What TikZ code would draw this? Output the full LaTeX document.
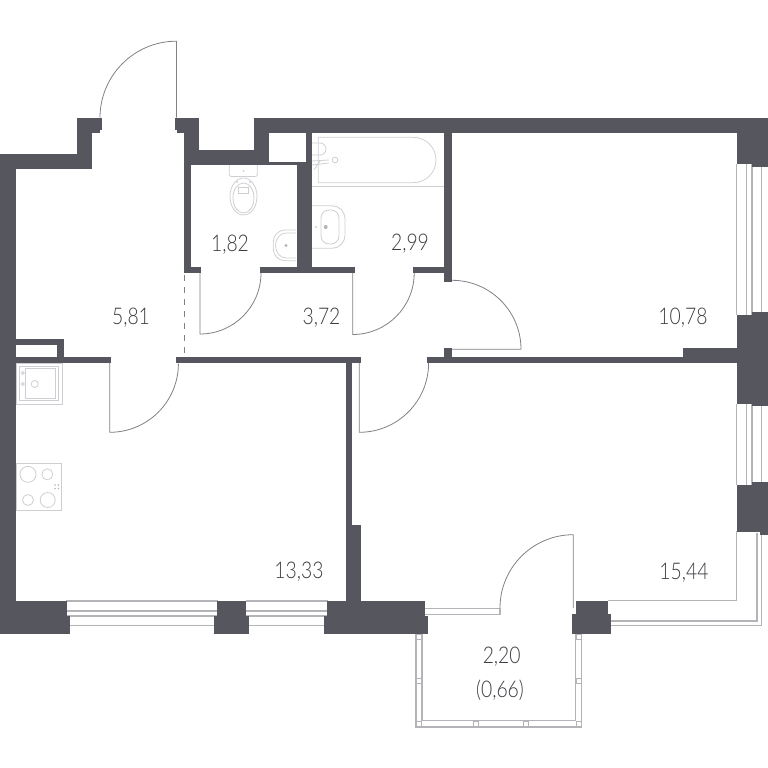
\documentclass[tikz,border=0pt]{standalone}
\usepackage{fontspec}
\setmainfont[FakeStretch=0.84]{Lato Light}
\definecolor{wallc}{HTML}{55565E}
\definecolor{glassc}{HTML}{B4B4B8}
\definecolor{doorc}{HTML}{808086}
\definecolor{fixc}{HTML}{CFCFD3}
\definecolor{textc}{HTML}{3C3C42}
\tikzset{
  wallfill/.style={fill=wallc},
  glass/.style={draw=glassc,line width=1.1pt},
  frameline/.style={draw=glassc,line width=1pt,fill=white},
  leaf/.style={draw=doorc,line width=0.8pt},
  fixture/.style={draw=fixc,line width=0.8pt},
  area/.style={font=\fontsize{23}{26}\selectfont,text=textc,inner sep=0pt}
}
\begin{document}
\begin{tikzpicture}[x=1pt,y=-1pt]
\useasboundingbox (0,0) rectangle (768,768);
% ---- glazing
\foreach \ya in {601,611,616}{\draw[glass] (66,\ya) -- (218,\ya);\draw[glass] (246,\ya) -- (328,\ya);}
\foreach \ya in {616.5,625.5}{\draw[glass] (69,\ya) -- (215,\ya);\draw[glass] (249,\ya) -- (325,\ya);}
\foreach \xa in {736.7,746.7,752,761.5}{\draw[glass] (\xa,164) -- (\xa,315);\draw[glass] (\xa,404) -- (\xa,485);}
\draw[glass] (736.7,531) -- (736.7,600.7) -- (608,600.7);
\draw[glass] (757,533) -- (757,621) -- (608,621);
\draw[glass] (761.7,533) -- (761.7,625.5) -- (610,625.5);
\draw[glass] (425,608.3) -- (500,608.3) -- (500,614.3) -- (425,614.3);
% ---- balcony frame
\draw[glass] (416,634) -- (416,727) -- (581.7,727) -- (581.7,634);
\draw[glass] (422,634) -- (422,720.7) -- (575.7,720.7) -- (575.7,634);
\foreach \xa/\ya in {419/681,578.7/681,476/724,526/724,419/724,578.7/724,419/637,578.7/637}{
  \draw[frameline] (\xa-2.6,\ya-2.6) rectangle (\xa+2.6,\ya+2.6);}
% ---- walls
\fill[wallfill] (0,154) rectangle (16,634);
\fill[wallfill] (0,154) rectangle (92,169);
\fill[wallfill] (77,117.5) rectangle (92,169);
\fill[wallfill] (77,117.5) rectangle (101.5,130);
\fill[wallfill] (92,130) rectangle (100,133);
\fill[wallfill] (175,117.5) rectangle (199,130);
\fill[wallfill] (177,130) rectangle (199,133);
\fill[wallfill] (184,117.5) rectangle (199,165);
\fill[wallfill] (184,150) rectangle (269,165);
\fill[wallfill] (184,165) rectangle (191,273);
\fill[wallfill] (184,266.5) rectangle (201,273);
\fill[wallfill] (254,117.5) rectangle (269,165);
\fill[wallfill] (254,117.5) rectangle (737,133);
\fill[wallfill] (269,162) rectangle (312,165);
\fill[wallfill] (297,162) rectangle (312,273);
\fill[wallfill] (305.7,133) rectangle (312,273);
\fill[wallfill] (260,266.5) rectangle (354.5,273);
\fill[wallfill] (412.7,266.5) rectangle (452,273);
\fill[wallfill] (443.5,133) rectangle (452,281.5);
\fill[wallfill] (444,348) rectangle (452,360);
\fill[wallfill] (426.7,357) rectangle (737,363.3);
\fill[wallfill] (683.3,347.7) rectangle (737,363.3);
\fill[wallfill] (176,357) rectangle (361,363.3);
\fill[wallfill] (16,357) rectangle (111,363.3);
\fill[wallfill] (16,338.5) rectangle (63.5,345);
\fill[wallfill] (57,338.5) rectangle (63.5,363);
\fill[wallfill] (16,359) rectangle (57,363);
\fill[wallfill] (345.7,363) rectangle (352,530);
\fill[wallfill] (345.7,525) rectangle (361,601);
% bottom wall
\fill[wallfill] (0,601) rectangle (66.7,634.3);
\fill[wallfill] (0,616) rectangle (69.7,634.3);
\fill[wallfill] (217.3,601) rectangle (246.3,634.3);
\fill[wallfill] (214.3,616) rectangle (249.3,634.3);
\fill[wallfill] (327,601) rectangle (425,634.3);
\fill[wallfill] (324,616) rectangle (428,634.3);
% balcony door block
\fill[wallfill] (575.7,600.7) rectangle (608,634);
\fill[wallfill] (572.3,614.3) rectangle (611,634);
% right wall
\fill[wallfill] (736.7,117.5) rectangle (752,164);
\fill[wallfill] (752,117.5) rectangle (767.7,167);
\fill[wallfill] (736.7,315) rectangle (752,403.5);
\fill[wallfill] (752,312) rectangle (767.7,405.5);
\fill[wallfill] (736.7,485) rectangle (760,531.7);
\fill[wallfill] (752,481.7) rectangle (767.7,531.7);
\fill[wallfill] (760,531) rectangle (767.7,535);
% ---- doors
\draw[leaf] (100,117.7) arc[start angle=180,end angle=90,radius=76.5pt] -- (176.5,117.7);
\draw[leaf] (200,273) -- (200,334) arc[start angle=270,end angle=360,radius=61pt];
\draw[leaf] (352.7,273) -- (352.7,334.5) arc[start angle=270,end angle=360,radius=61.5pt];
\draw[leaf] (452,280.3) arc[start angle=90,end angle=0,radius=69pt] -- (452,349.3);
\draw[leaf] (359.3,363) -- (359.3,432.3) arc[start angle=270,end angle=360,radius=69.3pt];
\draw[leaf] (109.7,363) -- (109.7,432.3) arc[start angle=270,end angle=360,radius=68.7pt];
\draw[leaf] (500,608) arc[start angle=180,end angle=90,radius=73.3pt] -- (573.3,608);
\draw[leaf,line width=0.7pt,dash pattern=on 6pt off 6pt] (184.5,275) -- (184.5,357);
% ---- bath
\draw[fixture] (312,186.7) -- (444,186.7);
\draw[fixture] (318.3,137.3) -- (413.3,137.3) arc[start angle=90,end angle=-90,radius=22.7pt] -- (318.3,182.7) -- cycle;
\draw[fixture,fill=white] (335,160) circle[radius=2.8];
\draw[fixture] (312,155) -- (320,155) arc[start angle=270,end angle=450,radius=6pt] -- (312,143);
\draw[fixture] (312,161) -- (329,160);
\draw[fixture] (312,165) -- (329,163);
\draw[fixture] (314,170) -- (320,161);
% ---- sink, bathroom
\draw[fixture] (312,205.7) -- (332,205.7) arc[start angle=90,end angle=0,radius=13pt] -- (345,235.3) arc[start angle=0,end angle=-90,radius=13pt] -- (312,248.3);
\draw[fixture,rounded corners=8pt] (321,210) rectangle (339,244);
\fill[glassc] (325.7,227) circle[radius=2];
\fill[fixc] (316,227) circle[radius=1.2];
% ---- sink, WC
\draw[fixture] (296.3,230) -- (285,230) arc[start angle=90,end angle=180,radius=11.7pt] -- (273.3,249) arc[start angle=180,end angle=270,radius=11.7pt] -- (296.3,260.7);
\draw[fixture] (296,233) -- (286,233) arc[start angle=90,end angle=270,x radius=10.5pt,y radius=12.5pt] -- (296,258);
\fill[glassc] (286,245.5) circle[radius=1.7];
% ---- toilet
\draw[fixture,rounded corners=2pt] (229.3,165) -- (229.3,176.5) -- (257.3,176.5) -- (257.3,165);
\draw[fixture] (243.5,196.5) ellipse[x radius=13.5,y radius=18.5];
\draw[fixture] (243.5,198) ellipse[x radius=10.5,y radius=15];
\draw[fixture] (238.5,187) rectangle (248.5,193);
\fill[fixc] (243.5,171) circle[radius=1];
\fill[fixc] (237,182) circle[radius=1];
\fill[fixc] (250,182) circle[radius=1];
% ---- kitchen sink
\draw[fixture] (16,363) rectangle (62,404.3);
\draw[fixture] (19,366.7) rectangle (58.3,400.7);
\draw[fixture] (25.7,368.5) rectangle (55.7,398.5);
\draw[fixture] (34.7,384) circle[radius=3.5];
\draw[fixture] (22.7,373) circle[radius=1.5];
\draw[fixture] (22.7,384) circle[radius=1.5];
% ---- hob
\draw[fixture] (16,463.3) rectangle (61.7,510);
\draw[fixture] (28,474.3) circle[radius=8];
\draw[fixture] (47.3,474.3) circle[radius=5.5];
\draw[fixture] (28,500) circle[radius=5.5];
\draw[fixture] (47.7,500) circle[radius=7.5];
\foreach \xa/\ya in {55/485,58.5/485,55/488.5,58.5/488.5}{\fill[glassc] (\xa,\ya) circle[radius=0.9];}
% ---- areas
\node[area] (a581) at (131,318) {5,81};
\node[area] (a182) at (230,245) {1,82};
\node[area] (a299) at (410,244) {2,99};
\node[area] (a372) at (321.5,318) {3,72};
\node[area] (a1078) at (683,318) {10,78};
\node[area] (a1333) at (299,572) {13,33};
\node[area] (a1544) at (684,573) {15,44};
\node[area] (a220) at (501.7,656.7) {2,20};
\node[area] (a066) at (500,690.7) {(0,66)};
\end{tikzpicture}
\end{document}
